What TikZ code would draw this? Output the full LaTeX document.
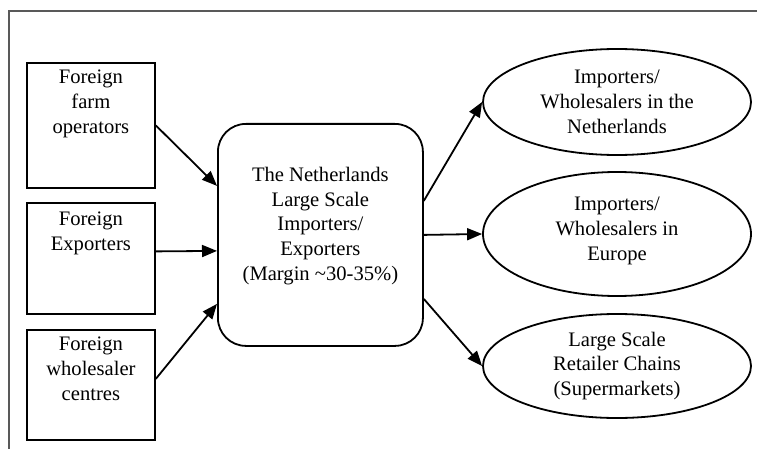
\documentclass[tikz,border=0pt]{standalone}
\usepackage{fontspec}
\setmainfont{Liberation Serif}
\usetikzlibrary{shapes.geometric,arrows.meta,calc}
\begin{document}
\begin{tikzpicture}[x=1pt,y=-1pt,
  frameline/.style={draw=black!65,line width=2pt},
  srcbox/.style={draw,line width=1.8pt,minimum width=128pt,minimum height=#1,inner sep=0pt,anchor=north west},
  hubbox/.style={draw,line width=1.8pt,rounded corners=28pt,minimum width=205pt,minimum height=222pt,inner sep=0pt,anchor=north west},
  destell/.style={draw,ellipse,line width=1.8pt,minimum width=268pt,minimum height=#1,inner sep=0pt},
  txt/.style={align=center,inner sep=0pt,font=\fontsize{20.6}{24.7}\selectfont},
  flow/.style={line width=1.8pt,-{Triangle[length=15pt,width=12pt]}}]
\useasboundingbox (0,0) rectangle (757,449);
\coordinate (fb) at (9,449);
\coordinate (fc) at (9,11);
\coordinate (fr) at (757,11);
\draw[frameline] (fb) -- (fc) -- (fr);
% source boxes
\node[srcbox=125pt] (b1) at (26,62) {};
\node[srcbox=111pt] (b2) at (26,202) {};
\node[srcbox=110pt] (b3) at (26,329) {};
\node[txt,anchor=north] (t1) at ($(b1.north)+(0,8)$) {Foreign\\farm\\operators};
\node[txt,anchor=north] (t2) at ($(b2.north)+(0,10)$) {Foreign\\Exporters};
\node[txt,anchor=north] (t3) at ($(b3.north)+(0,8)$) {Foreign\\wholesaler\\centres};
% hub
\node[hubbox] (c) at (217,123) {};
\node[txt] (tc) at ($(c.center)+(0,-9)$) {The Netherlands\\Large Scale\\Importers/\\Exporters\\(Margin \textasciitilde30-35\%)};
% destinations
\node[destell=106pt] (e1) at (617,102) {};
\node[destell=124pt] (e2) at (617,234) {};
\node[destell=104pt] (e3) at (617,366) {};
\node[txt] (te1) at (e1.center) {Importers/\\Wholesalers in the\\Netherlands};
\node[txt] (te2) at ($(e2.center)+(0,-3)$) {Importers/\\Wholesalers in\\Europe};
\node[txt] (te3) at (e3.center) {Large Scale\\Retailer Chains\\(Supermarkets)};
% connectors
\draw[flow] (b1.east) -- ($(c.west)+(0,-49)$);
\draw[flow] ($(b2.east)+(0,-7)$) -- ($(c.west)+(0,16)$);
\draw[flow] ($(b3.east)+(0,-6)$) -- ($(c.west)+(0,69)$);
\draw[flow] ($(c.east)+(0,-34)$) -- (e1.west);
\draw[flow] (c.east) -- (e2.west);
\draw[flow] ($(c.east)+(0,64)$) -- (e3.west);
\end{tikzpicture}
\end{document}
